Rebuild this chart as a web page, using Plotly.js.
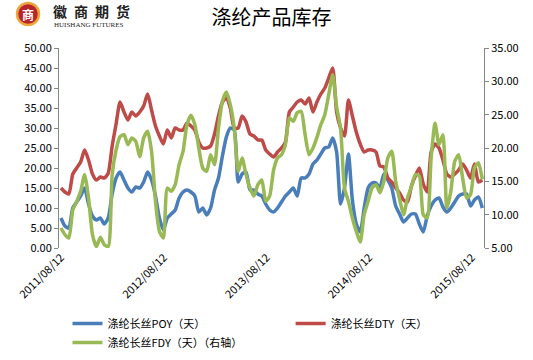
<!DOCTYPE html>
<html>
<head>
<meta charset="utf-8">
<script src="https://cdn.plot.ly/plotly-3.0.1.min.js"></script>
<style>
html,body{margin:0;padding:0;background:#fff;}
#chart{width:533px;height:360px;}
</style>
</head>
<body>
<div id="chart"></div>
<script>
// ---- data (one reading every two weeks) ----
const startDate = '2011-08-12';
const stepDays = 14;
const poyDays = [7.5,5.5,5,10,11.5,13,15,11,8,7,7.5,6,7.5,13.5,17.5,19,17,15,14,15.25,15,16.5,19,17,13,7.5,4.5,7.5,8.5,9.5,
  12.5,14,14.5,14,13,9,10,8.25,10,14.5,17.5,23,27.75,30,29.5,16.5,18.5,19,14.5,14.5,13.5,13,11,9.5,9,10,11.5,13,14,15,
  13,17.5,17.5,18.5,21,22,23.5,25,25.25,27.5,24,11,15,23.5,12,6,4,10,15,16.25,16.25,15,18.5,17,15,10.5,8.5,6.5,7.5,8.5,
  8.5,6,4,8,10.5,12,12.5,10.25,9,10,11.5,13,13.5,13.5,10.5,12,12.75,10];
const dtyDays = [15,14,13.5,18.5,20,21.5,24.5,22,18.5,17,17.75,17.5,18.7,25.5,31,36.5,34,32,34,33,34,35.5,38.5,34.5,30.5,28,26,29.5,27.5,30,
  29.5,29.5,31.25,30.5,29.5,26.5,25,25,25.5,28.5,33,36.5,37.5,35,30,30,33,31.5,28.5,28,27,27,24.5,23.5,22.75,24,25,26.5,34,35.25,
  36.5,37,36,37.5,34,36.5,38.5,40,42.5,45,34,30,28,37,33,29,26,24,24.5,24.5,24,20.5,20.25,17.5,16.5,15,13.75,12,11.5,15.5,
  18,20,16,14,24,26,25,22,18.5,17.75,18.5,19.5,21,19.5,17.5,21,16.5,17];
const fdyDays = [8,7,6.5,10.7,12,13.5,16,12.5,7,5.2,6.6,5.5,5.2,16,19.7,21.7,22,20.5,21.5,21,18.7,21.5,22.5,19.5,12,7.5,6.5,14,13.5,14.5,
  17.5,19.5,23.5,24.9,23.5,20,17,16.5,19,17.5,23,27,28.4,26.5,23,16.5,18.5,16,14,12.8,14.5,15.2,12,12.8,16.7,18.5,19,20.5,24.5,24,
  25.3,25.5,22,19,20,21.6,23.5,25,28,31,26.2,23,14,12,9.5,7.5,5.9,10,12,14,14.5,13.3,15,18.5,19.5,15,12.3,10,12.5,14.2,
  16,15.8,10,9.5,18.5,23.7,20.5,22,11,13.5,18,19,15.5,12.5,13,17,17.8,15.3];
const seriesNames = ['涤纶长丝POY（天）', '涤纶长丝DTY（天）', '涤纶长丝FDY（天）（右轴）'];
const tickDates = ['2011-08-12','2012-08-12','2013-08-12','2014-08-12','2015-08-12'];
const tickLabels = ['2011/08/12','2012/08/12','2013/08/12','2014/08/12','2015/08/12'];
const chartTitle = '涤纶产品库存';

// x categories: one date every stepDays from startDate
const dates = [];
const d0 = new Date(startDate + 'T00:00:00Z');
for (let i = 0; i < poyDays.length; i++) {
  const d = new Date(d0.getTime() + i * stepDays * 86400000);
  dates.push(d.toISOString().slice(0, 10));
}

const FONT = '"Noto Sans CJK SC", "Liberation Sans", sans-serif';
const traces = [
  {x: dates, y: poyDays, name: seriesNames[0], type: 'scatter', mode: 'lines', legend: 'legend',
   line: {color: '#4A7EBB', width: 3.5, shape: 'spline', smoothing: 0.6}, yaxis: 'y'},
  {x: dates, y: dtyDays, name: seriesNames[1], type: 'scatter', mode: 'lines', legend: 'legend2',
   line: {color: '#BE4B48', width: 3.5, shape: 'spline', smoothing: 0.6}, yaxis: 'y'},
  {x: dates, y: fdyDays, name: seriesNames[2], type: 'scatter', mode: 'lines', legend: 'legend',
   line: {color: '#98B954', width: 3.5, shape: 'spline', smoothing: 0.6}, yaxis: 'y2'}
];

const legendCommon = {orientation: 'v', xanchor: 'left', yanchor: 'top',
  tracegroupgap: 0, itemwidth: 30, bgcolor: 'rgba(0,0,0,0)', borderwidth: 0,
  font: {family: FONT, size: 11, color: '#000'}};

const layout = {
  width: 533, height: 360,
  margin: {l: 59, r: 49, t: 48, b: 112, autoexpand: false},
  paper_bgcolor: '#fff', plot_bgcolor: '#fff',
  font: {family: FONT, size: 11, color: '#000'},
  title: {text: chartTitle, font: {family: FONT, size: 20, color: '#000'},
          x: 0.5, xref: 'paper', y: 0.95, yref: 'container', yanchor: 'middle'},
  showlegend: true,
  legend: Object.assign({}, legendCommon, {x: 0.02, y: -0.305}),
  legend2: Object.assign({}, legendCommon, {x: 0.545, y: -0.305}),
  xaxis: {type: 'date', range: ['2011-08-05', '2015-09-24'],
          tickvals: tickDates, ticktext: tickLabels, tickangle: -45,
          showline: false, ticks: '', showgrid: false, zeroline: false, automargin: false,
          tickfont: {family: FONT, size: 11, color: '#000'}},
  yaxis: {range: [0, 50], dtick: 5, tickformat: '.2f', showgrid: false, zeroline: false, automargin: false,
          showline: true, linecolor: '#868686', linewidth: 1, ticks: 'outside', ticklen: 4,
          tickcolor: '#868686', tickfont: {family: FONT, size: 11, color: '#000'}},
  yaxis2: {range: [5, 35], dtick: 5, tickformat: '.2f', overlaying: 'y', side: 'right', automargin: false,
           showgrid: false, zeroline: false, showline: true, linecolor: '#868686', linewidth: 1,
           ticks: 'outside', ticklen: 4, tickcolor: '#868686',
           tickfont: {family: FONT, size: 11, color: '#000'}},
  shapes: [
    {type: 'circle', xref: 'paper', yref: 'paper', xsizemode: 'pixel', ysizemode: 'pixel',
     xanchor: 0, yanchor: 1, x0: -42, x1: -20, y0: 23, y1: 45,
     fillcolor: '#B8252B', line: {color: '#EDA63B', width: 2.5}}
  ],
  annotations: [
    {text: '<b>徽\u2002商\u2002期\u2002货</b>', xref: 'paper', yref: 'paper', x: 0, y: 1, xshift: -8, yshift: 37,
     showarrow: false, xanchor: 'left', yanchor: 'middle',
     font: {family: '"Noto Sans CJK SC", serif', size: 14, color: '#222'}},
    {text: 'HUISHANG FUTURES', xref: 'paper', yref: 'paper', x: 0, y: 1, xshift: -7, yshift: 23,
     showarrow: false, xanchor: 'left', yanchor: 'middle',
     font: {family: '"Liberation Serif", serif', size: 7, color: '#222'}},
    {text: '<b>商</b>', xref: 'paper', yref: 'paper', x: 0, y: 1, xshift: -31, yshift: 34,
     showarrow: false, xanchor: 'center', yanchor: 'middle',
     font: {family: '"Noto Sans CJK SC", serif', size: 12, color: '#fff'}}
  ]
};

Plotly.newPlot('chart', traces, layout, {displayModeBar: false, staticPlot: true});
</script>
</body>
</html>
